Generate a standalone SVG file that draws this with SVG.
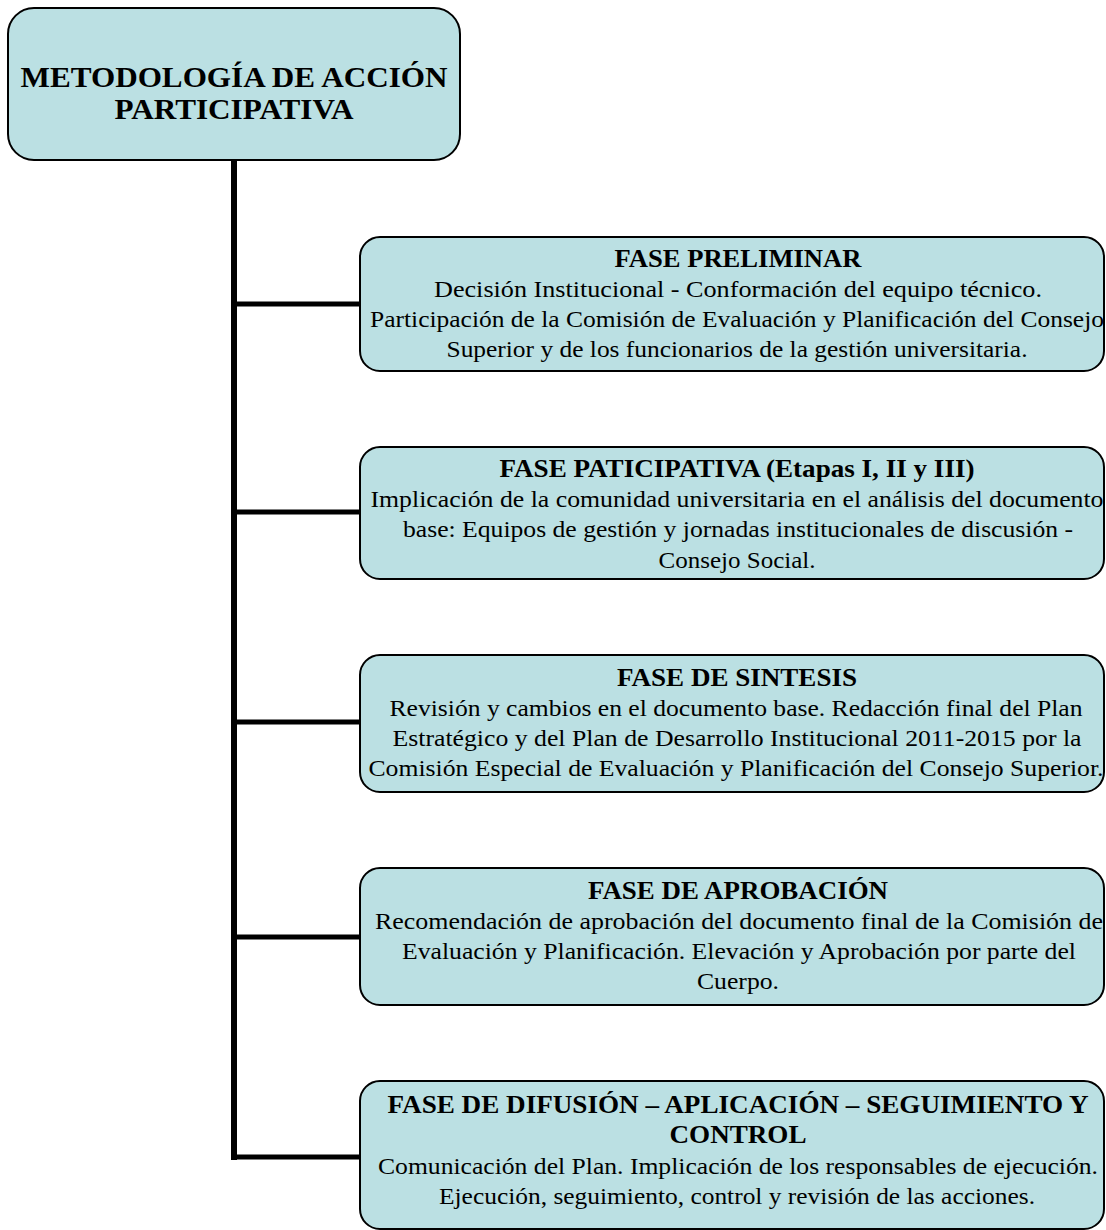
<svg xmlns="http://www.w3.org/2000/svg" width="1106" height="1230" viewBox="0 0 1106 1230">
<style>
.box{fill:#BBE0E3;stroke:#000;stroke-width:2}
.t{font-family:"Liberation Serif",serif;fill:#000;text-anchor:middle}
.h{font-weight:bold;font-size:25px}
.b{font-size:24px}
.m{font-weight:bold;font-size:30px}
.c{stroke:#000;fill:none}
</style>
<rect width="1106" height="1230" fill="#fff"/>
<g id="connectors">
<line class="c" x1="234" y1="160" x2="234" y2="1160" stroke-width="6"/>
<line class="c" x1="231" y1="304" x2="361" y2="304" stroke-width="5"/>
<line class="c" x1="231" y1="512" x2="361" y2="512" stroke-width="5"/>
<line class="c" x1="231" y1="722" x2="361" y2="722" stroke-width="5"/>
<line class="c" x1="231" y1="937" x2="361" y2="937" stroke-width="5"/>
<line class="c" x1="231" y1="1157" x2="361" y2="1157" stroke-width="5"/>
</g>
<g id="root">
<rect class="box" x="8" y="8" width="452" height="152" rx="26"/>
<text class="t m" x="234" y="87" textLength="427" lengthAdjust="spacingAndGlyphs">METODOLOGÍA DE ACCIÓN</text>
<text class="t m" x="234" y="119" textLength="239" lengthAdjust="spacingAndGlyphs">PARTICIPATIVA</text>
</g>
<g id="fase1">
<rect class="box" x="360" y="237" width="744" height="134" rx="20"/>
<text class="t h" x="738" y="267" textLength="247" lengthAdjust="spacingAndGlyphs">FASE PRELIMINAR</text>
<text class="t b" x="738" y="297" textLength="608" lengthAdjust="spacingAndGlyphs">Decisión Institucional -  Conformación del equipo técnico.</text>
<text class="t b" x="737" y="327" textLength="734" lengthAdjust="spacingAndGlyphs">Participación de la Comisión de Evaluación y Planificación del Consejo</text>
<text class="t b" x="737" y="357" textLength="581" lengthAdjust="spacingAndGlyphs">Superior y de los funcionarios de la gestión universitaria.</text>
</g>
<g id="fase2">
<rect class="box" x="360" y="447" width="744" height="132" rx="20"/>
<text class="t h" x="737" y="477" textLength="475" lengthAdjust="spacingAndGlyphs">FASE PATICIPATIVA (Etapas I, II y III)</text>
<text class="t b" x="737" y="507" textLength="733" lengthAdjust="spacingAndGlyphs">Implicación de la comunidad universitaria en el  análisis del documento</text>
<text class="t b" x="738" y="537" textLength="670" lengthAdjust="spacingAndGlyphs">base: Equipos de gestión y jornadas institucionales de discusión -</text>
<text class="t b" x="737" y="568" textLength="157" lengthAdjust="spacingAndGlyphs">Consejo Social.</text>
</g>
<g id="fase3">
<rect class="box" x="360" y="655" width="744" height="137" rx="20"/>
<text class="t h" x="737" y="686" textLength="240" lengthAdjust="spacingAndGlyphs">FASE DE SINTESIS</text>
<text class="t b" x="736" y="716" textLength="693" lengthAdjust="spacingAndGlyphs">Revisión y cambios en el documento base. Redacción final del Plan</text>
<text class="t b" x="737" y="746" textLength="689" lengthAdjust="spacingAndGlyphs">Estratégico y del Plan de Desarrollo Institucional 2011-2015 por la</text>
<text class="t b" x="736" y="776" textLength="735" lengthAdjust="spacingAndGlyphs">Comisión Especial de Evaluación y Planificación del Consejo Superior.</text>
</g>
<g id="fase4">
<rect class="box" x="360" y="868" width="744" height="137" rx="20"/>
<text class="t h" x="738" y="899" textLength="300" lengthAdjust="spacingAndGlyphs">FASE DE APROBACIÓN</text>
<text class="t b" x="739" y="929" textLength="728" lengthAdjust="spacingAndGlyphs">Recomendación de aprobación del documento final de la Comisión de</text>
<text class="t b" x="739" y="959" textLength="674" lengthAdjust="spacingAndGlyphs">Evaluación y Planificación. Elevación y Aprobación por parte del</text>
<text class="t b" x="738" y="989" textLength="82" lengthAdjust="spacingAndGlyphs">Cuerpo.</text>
</g>
<g id="fase5">
<rect class="box" x="360" y="1081" width="744" height="148" rx="20"/>
<text class="t h" x="738" y="1113" textLength="701" lengthAdjust="spacingAndGlyphs">FASE DE DIFUSIÓN – APLICACIÓN – SEGUIMIENTO Y</text>
<text class="t h" x="738" y="1143" textLength="137" lengthAdjust="spacingAndGlyphs">CONTROL</text>
<text class="t b" x="738" y="1174" textLength="720" lengthAdjust="spacingAndGlyphs">Comunicación del Plan. Implicación de los responsables de ejecución.</text>
<text class="t b" x="737" y="1204" textLength="596" lengthAdjust="spacingAndGlyphs">Ejecución, seguimiento, control y revisión de las acciones.</text>
</g>
</svg>
